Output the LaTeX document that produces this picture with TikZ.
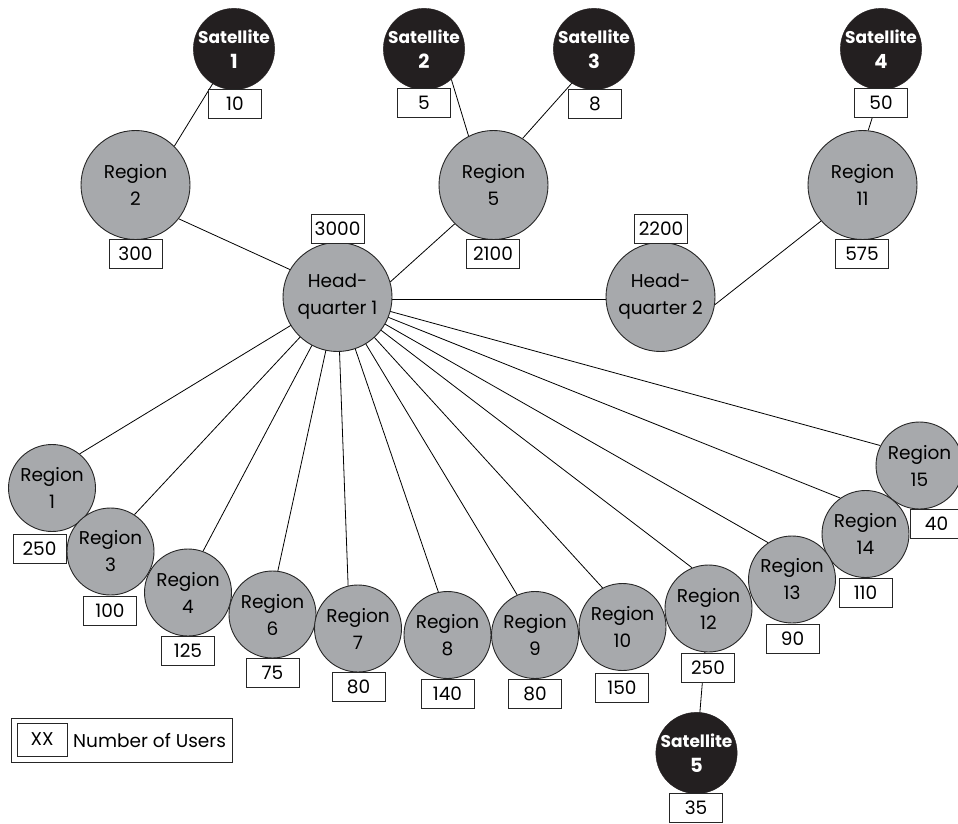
\documentclass[tikz,border=0pt]{standalone}
\usepackage{fontspec}
\setmainfont{Poppins}
\usetikzlibrary{backgrounds}

\definecolor{regiongray}{RGB}{167,169,172}
\definecolor{satblack}{RGB}{35,31,32}
\newcommand\regionfont{\fontsize{18.5}{27}\selectfont}
\newcommand\mysatfont{\fontsize{17}{25}\selectfont\bfseries}
\newcommand\satnum[1]{{\fontsize{19.5}{25}\selectfont #1}}

\tikzset{
  big/.style={circle, draw=black!85, line width=0.9pt, fill=regiongray,
    minimum size=109pt, inner sep=0pt, align=center, font=\regionfont},
  small/.style={big, minimum size=87pt},
  sat/.style={circle, draw=satblack, fill=satblack, minimum size=80pt,
    inner sep=0pt, align=center, text=white, font=\mysatfont},
  users/.style={draw=black!85, fill=white, line width=0.8pt,
    minimum width=53pt, minimum height=29pt, inner sep=0pt, font=\regionfont},
  link/.style={line width=0.8pt}
}

\begin{document}
\begin{tikzpicture}[x=1pt,y=-1pt]
\useasboundingbox (0,0) rectangle (958,824);

% satellites
\node[sat] (s1) at (234,49) {Satellite\\\satnum{1}};
\node[sat] (s2) at (424,49) {Satellite\\\satnum{2}};
\node[sat] (s3) at (594,49) {Satellite\\\satnum{3}};
\node[sat] (s4) at (881,49) {Satellite\\\satnum{4}};
\node[sat] (s5) at (696.5,753) {Satellite\\\satnum{5}};

% upper regions and headquarters
\node[big] (r2)  at (135.5,185) {Region\\2};
\node[big] (r5)  at (493.5,185) {Region\\5};
\node[big] (r11) at (862.5,185) {Region\\11};
\node[big] (hq1) at (337.5,297) {Head-\\quarter 1};
\node[big] (hq2) at (660.5,297) {Head-\\quarter 2};

% lower arc of regions
\node[small] (r1)  at (52,488)      {Region\\1};
\node[small] (r3)  at (110.5,551.5) {Region\\3};
\node[small] (r4)  at (188,592.5)   {Region\\4};
\node[small] (r6)  at (272.5,614.5) {Region\\6};
\node[small] (r7)  at (358,628.5)   {Region\\7};
\node[small] (r8)  at (447.5,635)   {Region\\8};
\node[small] (r9)  at (535,635)     {Region\\9};
\node[small] (r10) at (622.5,627)   {Region\\10};
\node[small] (r15) at (919.5,465.5) {Region\\15};
\node[small] (r14) at (865.5,534)   {Region\\14};
\node[small] (r13) at (792,579.5)   {Region\\13};
\node[small] (r12) at (708.5,608.5) {Region\\12};

% user counts
\node[users] (u-s1)  at (235,103.5)   {10};
\node[users] (u-s2)  at (424,102.5)   {5};
\node[users] (u-s3)  at (595,104)     {8};
\node[users] (u-s4)  at (881,102.5)   {50};
\node[users] (u-r2)  at (135.5,253.5) {300};
\node[users] (u-r5)  at (493,253.5)   {2100};
\node[users] (u-r11) at (862,253.5)   {575};
\node[users] (u-hq1) at (337.5,229)   {3000};
\node[users] (u-hq2) at (661,229)     {2200};
\node[users] (u-r1)  at (39.5,548.5)  {250};
\node[users] (u-r3)  at (110,610.5)   {100};
\node[users] (u-r4)  at (188,650.5)   {125};
\node[users] (u-r6)  at (272.5,672.5) {75};
\node[users] (u-r7)  at (358.5,687)   {80};
\node[users] (u-r8)  at (447.5,693.5) {140};
\node[users] (u-r9)  at (535,693.5)   {80};
\node[users] (u-r10) at (622,687.5)   {150};
\node[users] (u-r12) at (708,667.5)   {250};
\node[users] (u-r13) at (792.5,638.5) {90};
\node[users] (u-r14) at (865.5,592.5) {110};
\node[users] (u-r15) at (936.5,523.5) {40};
\node[users] (u-s5)  at (696,808)     {35};

% legend
\node[draw=black!85, line width=0.8pt, minimum width=221pt, minimum height=44pt,
  inner sep=0pt] (legend) at (121.5,740) {};
\node[users, minimum width=50pt, minimum height=33pt] (legend-key) at (42,739.5) {XX};
\node[anchor=west, font=\regionfont, inner sep=0pt] (legend-text) at (73,741) {Number of Users};

% links
\begin{scope}[on background layer]
  \draw[link] (r2.45) -- (s1);
  \draw[link] (s2.-48) -- (r5.117);
  \draw[link] (s3.-123) -- (r5.58);
  \draw[link] (s4.-90) -- (r11.84);
  \draw[link] (r2.-38) -- (hq1.150);
  \draw[link] (hq1.16) -- (r5.-135);
  \draw[link] (hq1.-2) -- (hq2.-178);
  \draw[link] (hq2.-8.5) -- (r11.-139);
  \draw[link] (r12.center) -- (s5.center);
  \draw[link] (hq1.center) -- (r1.51);
  \draw[link] (hq1.center) -- (r3.57);
  \draw[link] (hq1.center) -- (r4.70);
  \draw[link] (hq1.center) -- (r6.83);
  \draw[link] (hq1.center) -- (r7.103);
  \draw[link] (hq1.center) -- (r8.102);
  \draw[link] (hq1.center) -- (r9.114);
  \draw[link] (hq1.center) -- (r10.117);
  \draw[link] (hq1.center) -- (r12.112);
  \draw[link] (hq1.center) -- (r13.123);
  \draw[link] (hq1.center) -- (r14.125);
  \draw[link] (hq1.center) -- (r15.153);
\end{scope}
\end{tikzpicture}
\end{document}
